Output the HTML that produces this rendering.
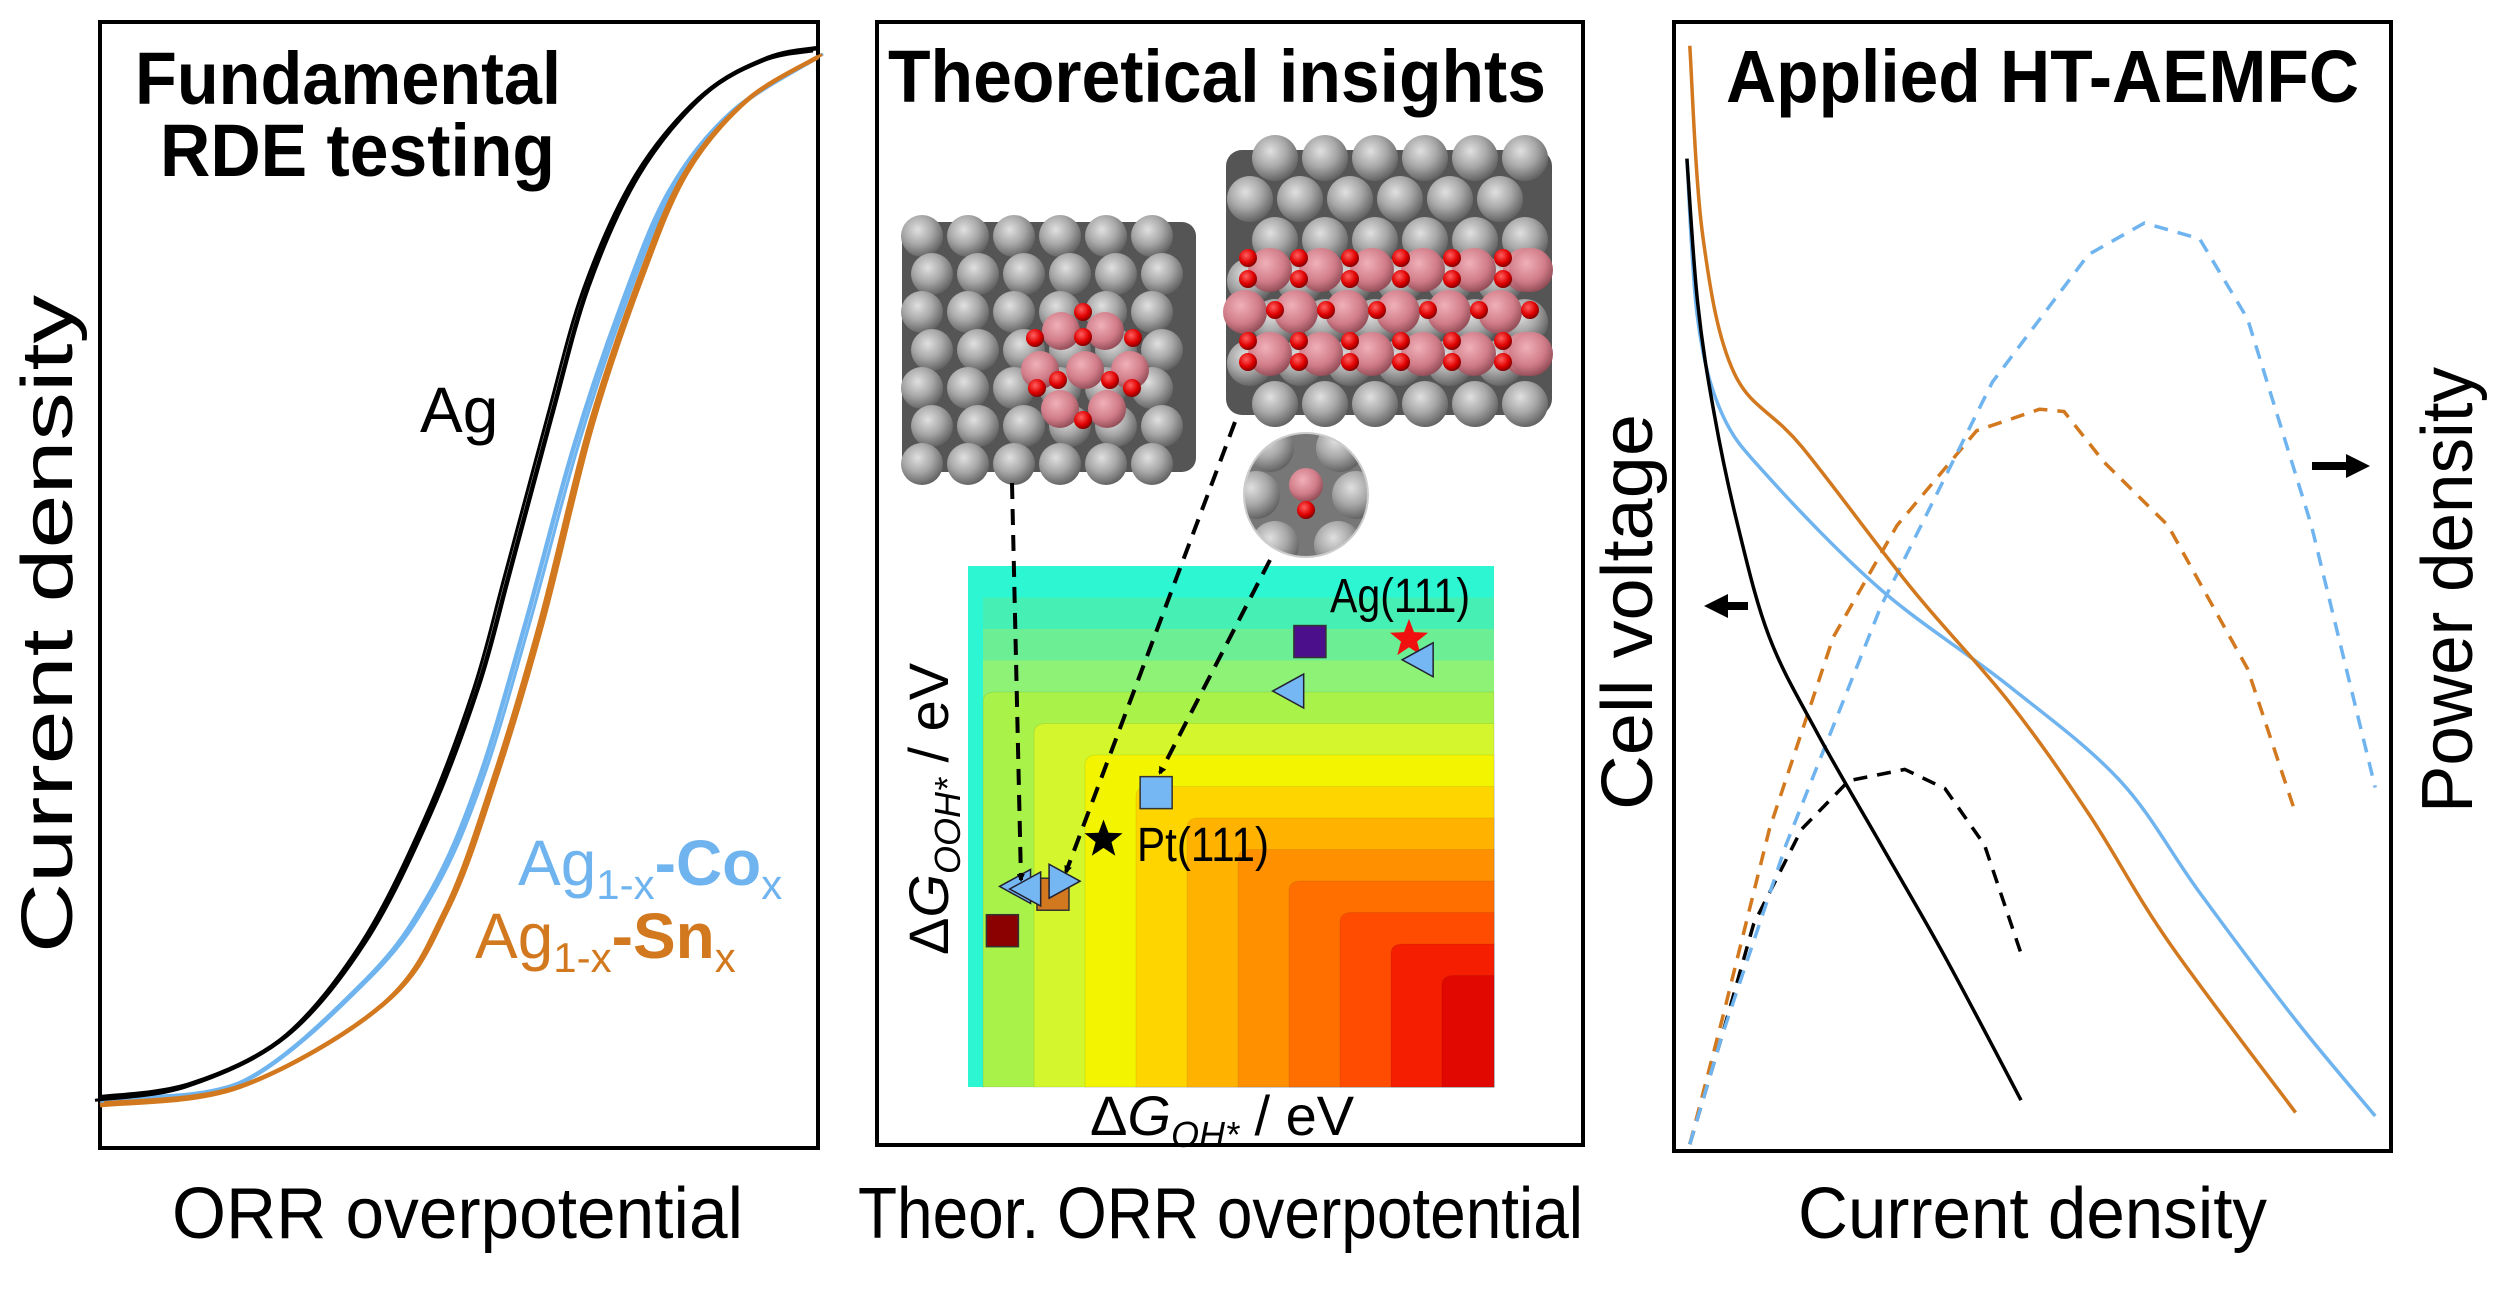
<!DOCTYPE html>
<html><head><meta charset="utf-8"><style>
html,body{margin:0;padding:0;background:#fff;}
svg{display:block;font-family:"Liberation Sans",Arial,sans-serif;}
</style></head><body>
<svg id="fig" width="2500" height="1294" viewBox="0 0 2500 1294" xmlns="http://www.w3.org/2000/svg">
<defs>
<radialGradient id="gAg" cx="0.4" cy="0.35" r="0.7"><stop offset="0" stop-color="#e0e0e0"/><stop offset="0.5" stop-color="#a8a8a8"/><stop offset="1" stop-color="#5a5a5a"/></radialGradient>
<radialGradient id="gPk" cx="0.4" cy="0.35" r="0.7"><stop offset="0" stop-color="#f0b0b8"/><stop offset="0.6" stop-color="#d07c88"/><stop offset="1" stop-color="#8a4650"/></radialGradient>
<radialGradient id="gO" cx="0.4" cy="0.35" r="0.7"><stop offset="0" stop-color="#ff6060"/><stop offset="0.6" stop-color="#e00000"/><stop offset="1" stop-color="#700000"/></radialGradient>
<clipPath id="circClip"><ellipse cx="1306" cy="495" rx="62" ry="62"/></clipPath>
<marker id="ah" markerWidth="8" markerHeight="8" refX="6" refY="4" orient="auto" markerUnits="userSpaceOnUse" viewBox="0 0 8 8"><path d="M0,0 L8,4 L0,8 z" fill="#000"/></marker>
</defs>

<rect x="100" y="22" width="718" height="1126" fill="none" stroke="#000" stroke-width="4"/>
<rect x="877" y="22" width="706" height="1123" fill="none" stroke="#000" stroke-width="4"/>
<rect x="1674" y="22" width="717" height="1129" fill="none" stroke="#000" stroke-width="4"/>

<g id="p1"></g>
<g id="heat"></g>
<g id="mol"></g>
<g id="p3"></g>

<g font-weight="bold" fill="#000" font-size="74">
<text x="135" y="104" textLength="426" lengthAdjust="spacingAndGlyphs">Fundamental</text>
<text x="160" y="176" textLength="395" lengthAdjust="spacingAndGlyphs">RDE testing</text>
<text x="888" y="102" textLength="658" lengthAdjust="spacingAndGlyphs">Theoretical insights</text>
<text x="1726" y="102" textLength="633" lengthAdjust="spacingAndGlyphs">Applied HT-AEMFC</text>
</g>
<g font-size="72" fill="#000">
<text x="172" y="1238" textLength="571" lengthAdjust="spacingAndGlyphs">ORR overpotential</text>
<text x="858" y="1238" textLength="725" lengthAdjust="spacingAndGlyphs">Theor. ORR overpotential</text>
<text x="1798" y="1238" textLength="469" lengthAdjust="spacingAndGlyphs">Current density</text>
<text transform="translate(72,953) rotate(-90)" textLength="658" lengthAdjust="spacingAndGlyphs">Current density</text>
<text transform="translate(1652,810) rotate(-90)" textLength="396" lengthAdjust="spacingAndGlyphs">Cell voltage</text>
<text transform="translate(2472,813) rotate(-90)" textLength="446" lengthAdjust="spacingAndGlyphs">Power density</text>
</g>

<g font-size="64">
<text x="420" y="432" fill="#000">Ag</text>
<text x="518" y="885" fill="#6fb4ef">Ag<tspan font-size="42" dy="14">1-x</tspan><tspan dy="-14" font-weight="bold">-Co</tspan><tspan font-size="42" dy="14">x</tspan></text>
<text x="475" y="958" fill="#d2781e">Ag<tspan font-size="42" dy="14">1-x</tspan><tspan dy="-14" font-weight="bold">-Sn</tspan><tspan font-size="42" dy="14">x</tspan></text>
</g>
<g font-size="48" fill="#000">
<text x="1330" y="612" textLength="140" lengthAdjust="spacingAndGlyphs">Ag(111)</text>
<text x="1137" y="861" textLength="132" lengthAdjust="spacingAndGlyphs">Pt(111)</text>
<text x="1090" y="1135" font-size="56">Δ<tspan font-style="italic">G</tspan><tspan font-style="italic" font-size="36" dy="12">OH*</tspan><tspan dy="-12"> / eV</tspan></text>
<text transform="translate(948,955) rotate(-90)" font-size="56">Δ<tspan font-style="italic">G</tspan><tspan font-style="italic" font-size="36" dy="12">OOH*</tspan><tspan dy="-12"> / eV</tspan></text>
</g>
</svg>
<script>
// ---------- Panel 1 data (normalized: overpotential 0-100, current 0-100) ----------
const agX   = [0,12.7,26,37,46,52.7,57,62.9,68,75,84,93,100];
const agY   = [4.5,5.7,10,18.4,29.7,41,51,65,76.5,86.4,93.5,96.8,97.7];
const coX   = [0,19.3,37,46,52.7,59.3,66,72.7,79.3,88,100];
const coY   = [4.2,5.7,14.9,22.7,32.6,46.7,62.3,75,85,92,96.9];
const snX   = [0,19.3,39.3,48,54.7,61.3,68,74.7,81.3,90,100];
const snY   = [3.8,5.4,12.7,21,32.6,46.7,63.7,76.5,86.4,93,96.9];

// ---------- Panel 3 data ----------
const fcBlackVX = [1.8,3.3,5.6,8.9,13.3,20,28.9,37.8,48.4];
const fcBlackVY = [87.9,75.1,65.3,55.4,45.5,37,27.1,17.2,4.5];
const fcBlueVX  = [1.8,3.3,6.7,13.3,28.9,46.7,62.2,73.3,86.7,97.8];
const fcBlueVY  = [87.9,73.7,65.3,59.6,49.7,41.2,32.8,22.9,11.6,3.1];
const fcOrVX    = [2.2,4,8.4,17.8,33.3,46.7,57.8,68.9,86.7];
const fcOrVY    = [97.9,81.1,68.9,62.4,49.7,39.8,29.9,18.6,3.4];
const fcBlackPX = [2.2,6.7,11.1,17.8,24.4,32.2,37.8,43.3,48.4];
const fcBlackPY = [0.6,10.2,20.1,28.5,32.8,33.8,32.1,27.1,17.5];
const fcOrPX    = [2.2,6.7,13.3,22.2,31.1,42.2,51,54.4,60,68.9,80,86.7];
const fcOrPY    = [0.6,11.6,28.5,45.5,55.4,63.8,65.7,65.5,61,55.4,42.7,29.9];
const fcBluePX  = [2.2,6.7,15.6,28.9,44.4,57.8,65.6,73.3,80,88.9,97.8];
const fcBluePY  = [0.6,10.2,27.1,48.3,68.1,79.4,82.2,80.8,73.7,55.4,32.2];

// ---------- Heatmap data ----------
const bandColors = ["#80ef7c","#2cf7d2","#46f0b4","#6cee94","#8ef276","#a9f24a","#d3f72c","#f3f500","#ffd500","#ffb200","#ff9000","#ff6f00","#ff4c00","#f51e00","#e00800","#c50000","#a80000"];
const markerSym = ["sq","sq","tl","tl","tr","star","sq","tl","sq","star","tl"];
const markerCol = ["#8b0000","#d2781e","#75b7f2","#75b7f2","#75b7f2","#000","#75b7f2","#75b7f2","#4b0f8c","#f01010","#75b7f2"];
const markerGx  = [0.085,0.21,0.12,0.145,0.235,0.335,0.465,0.795,0.845,1.09,1.115];
const markerGy  = [0.70,0.63,0.615,0.62,0.605,0.525,0.435,0.24,0.145,0.14,0.18];

const NS="http://www.w3.org/2000/svg";
function mk(tag, attrs, parent){const e=document.createElementNS(NS,tag);for(const k in attrs)e.setAttribute(k,attrs[k]);parent.appendChild(e);return e;}
function smooth(pts){let d="M"+pts[0][0]+","+pts[0][1];for(let i=0;i<pts.length-1;i++){const p0=pts[Math.max(0,i-1)],p1=pts[i],p2=pts[i+1],p3=pts[Math.min(pts.length-1,i+2)];const c1=[p1[0]+(p2[0]-p0[0])/6,p1[1]+(p2[1]-p0[1])/6],c2=[p2[0]-(p3[0]-p1[0])/6,p2[1]-(p3[1]-p1[1])/6];d+=" C"+c1[0].toFixed(1)+","+c1[1].toFixed(1)+" "+c2[0].toFixed(1)+","+c2[1].toFixed(1)+" "+p2[0].toFixed(1)+","+p2[1].toFixed(1);}return d;}
function linear(pts){return pts.map((p,i)=>(i?"L":"M")+p[0].toFixed(1)+","+p[1].toFixed(1)).join(" ");}

const p1=document.getElementById('p1');
const x1=v=>100+v*7.18, y1=v=>1148-v*11.26;
function rdeCurve(xs,ys,col,name,off){
  for(let k=0;k<2;k++){
    const pts=xs.map((v,i)=>[x1(v)+(k?off:0),y1(ys[i])+(k?-off*0.6:0)]);
    const p=mk('path',{d:smooth(pts),fill:'none',stroke:col,'stroke-width':k?3:4.5},p1);
    
    
  }
}
rdeCurve(coX,coY,'#6fb4ef','agco-curve',5);
rdeCurve(snX,snY,'#d2781e','agsn-curve',4);
rdeCurve(agX,agY,'#000','ag-curve',-5);

const heat=document.getElementById('heat');
const hx0=968,hx1=1494,hy0=566,hy1=1087;
const gx=v=>hx0+(v/1.3)*(hx1-hx0), gy=v=>hy0+v*(hy1-hy0);
mk('rect',{x:hx0,y:hy0,width:hx1-hx0,height:hy1-hy0,fill:bandColors[0]},heat);
for(let i=1;i<=4;i++){
  const r=mk('rect',{x:(i==1?hx0:hx0+15),y:hy0+(i-1)*31.5,width:(i==1?hx1-hx0:hx1-hx0-15),height:hy1-hy0-(i-1)*31.5,fill:bandColors[i]},heat);
  
  
}
for(let k=5;k<bandColors.length;k++){
  const j=k-5;
  const x=hx0+15+j*51, y=hy0+4*31.5+j*31.5;
  if(x>=hx1-5) break;
  const r=mk('path',{d:`M${x},${hy1} L${x},${y+10} Q${x},${y} ${x+12},${y} L${hx1},${y} L${hx1},${hy1} Z`,fill:bandColors[k],stroke:'rgba(0,0,0,0.08)','stroke-width':1},heat);
  
  
}
function star(cx,cy,r){let d="";for(let i=0;i<10;i++){const a=-Math.PI/2+i*Math.PI/5,rr=i%2?r*0.42:r;d+=(i?"L":"M")+(cx+rr*Math.cos(a)).toFixed(1)+","+(cy+rr*Math.sin(a)).toFixed(1);}return d+"Z";}
for(let i=0;i<markerSym.length;i++){
  const cx=gx(markerGx[i]),cy=gy(markerGy[i]);let m;
  if(markerSym[i]=="sq") m=mk('rect',{x:cx-16,y:cy-16,width:32,height:32,fill:markerCol[i],stroke:'#333','stroke-width':1.5},heat);
  else if(markerSym[i]=="tl") m=mk('path',{d:`M${cx-17},${cy} L${cx+14},${cy-17} L${cx+14},${cy+17} Z`,fill:markerCol[i],stroke:'#223','stroke-width':1.5},heat);
  else if(markerSym[i]=="tr") m=mk('path',{d:`M${cx+17},${cy} L${cx-14},${cy-17} L${cx-14},${cy+17} Z`,fill:markerCol[i],stroke:'#223','stroke-width':1.5},heat);
  else m=mk('path',{d:star(cx,cy,20),fill:markerCol[i]},heat);
  
  
}

const mol=document.getElementById('mol');
function sph(cx,cy,r,g){mk('circle',{cx:cx,cy:cy,r:r,fill:'url(#'+g+')'},mol);}
mk('rect',{x:902,y:222,width:294,height:250,rx:14,fill:'#555'},mol);
for(let r=0;r<7;r++)for(let c=0;c<7;c++){const cx=922+c*46+(r%2?10:0),cy=236+r*38;if(cx<1195)sph(cx,cy,21,'gAg');}
[[1061,331],[1105,331],[1040,370],[1085,370],[1130,370],[1060,409],[1107,409]].forEach(p=>sph(p[0],p[1],19,'gPk'));
[[1083,312],[1083,337],[1035,338],[1133,338],[1058,380],[1110,380],[1037,388],[1132,388],[1083,420]].forEach(p=>sph(p[0],p[1],9,'gO'));
mk('rect',{x:1226,y:150,width:326,height:265,rx:16,fill:'#555'},mol);
for(let r=0;r<7;r++)for(let c=0;c<7;c++){const cx=1250+c*50+(r%2?0:25),cy=158+r*41;if(cx<1550)sph(cx,cy,23,'gAg');}
for(let r=0;r<3;r++)for(let c=0;c<6;c++){sph(1270+c*51+(r==1?-25:0),270+r*42,22,'gPk');}
sph(1531,270,22,'gPk');sph(1531,354,22,'gPk');
for(let r=0;r<5;r++)for(let c=0;c<6;c++){sph(1248+c*51+(r==2?27:0),258+r*21+(r>2?20:0)+(r==2?10:0),9,'gO');}
const cg=mk('g',{'clip-path':'url(#circClip)'},mol);
mk('rect',{x:1240,y:430,width:130,height:130,fill:'#777'},cg);
[[1270,448],[1340,448],[1256,495],[1356,495],[1275,545],[1338,545]].forEach(p=>mk('circle',{cx:p[0],cy:p[1],r:24,fill:'url(#gAg)'},cg));
mk('circle',{cx:1306,cy:485,r:17,fill:'url(#gPk)'},cg);
mk('circle',{cx:1306,cy:510,r:9,fill:'url(#gO)'},cg);
mk('ellipse',{cx:1306,cy:495,rx:62,ry:62,fill:'none',stroke:'#ccc','stroke-width':2},mol);
[[1012,483,1021,880],[1235,422,1066,872],[1270,560,1160,773]].forEach(a=>{
  const l=mk('line',{x1:a[0],y1:a[1],x2:a[2],y2:a[3],stroke:'#000','stroke-width':4,'stroke-dasharray':'16,10','marker-end':'url(#ah)'},mol);
  
  
});

const p3=document.getElementById('p3');
const x3=v=>1674+v*7.17, y3=v=>1151-v*11.29;
function fcLine(xs,ys,col,dash,name){
  const pts=xs.map((v,i)=>[x3(v),y3(ys[i])]);
  const p=mk('path',{d:dash?linear(pts):smooth(pts),fill:'none',stroke:col,'stroke-width':3.5,'stroke-linejoin':'round'},p3);
  if(dash)p.setAttribute('stroke-dasharray','14,10');
  
  
}
fcLine(fcBlackPX,fcBlackPY,'#000',1,'ag-power-curve');
fcLine(fcOrPX,fcOrPY,'#d2781e',1,'agsn-power-curve');
fcLine(fcBluePX,fcBluePY,'#6fb4ef',1,'agco-power-curve');
fcLine(fcBlueVX,fcBlueVY,'#6fb4ef',0,'agco-voltage-curve');
fcLine(fcOrVX,fcOrVY,'#d2781e',0,'agsn-voltage-curve');
fcLine(fcBlackVX,fcBlackVY,'#000',0,'ag-voltage-curve');
const la=mk('path',{d:'M1704,606 L1728,594 L1728,602 L1748,602 L1748,610 L1728,610 L1728,618 Z',fill:'#000'},p3);


const ra=mk('path',{d:'M2370,466 L2346,454 L2346,462 L2312,462 L2312,470 L2346,470 L2346,478 Z',fill:'#000'},p3);


</script>
</body></html>
